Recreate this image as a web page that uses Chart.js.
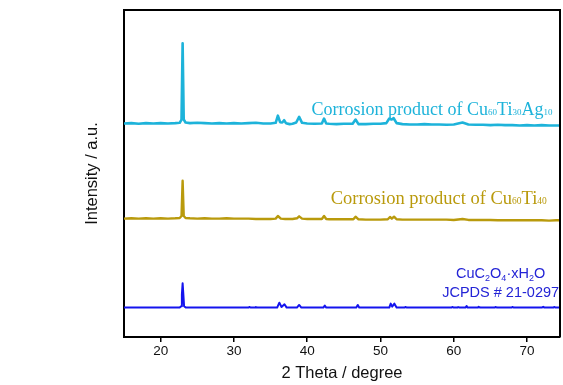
<!DOCTYPE html>
<html>
<head>
<meta charset="utf-8">
<script src="https://cdn.jsdelivr.net/npm/chart.js@4/dist/chart.umd.min.js"></script>
<style>
html,body{margin:0;padding:0;background:#fff;overflow:hidden;}
canvas{display:block;}
</style>
</head>
<body>
<canvas id="c" width="563" height="385" style="width:563px;height:385px"></canvas>
<script>
// ---- Data (2θ in degree, intensity in a.u. relative to each pattern's baseline) ----
const xTickValues = [20, 30, 40, 50, 60, 70];
const seriesNames = ['Corrosion product of Cu60Ti30Ag10', 'Corrosion product of Cu60Ti40', 'CuC2O4·xH2O JCPDS # 21-0297'];
const seriesOffsets = [653, 362, 90];

const cuTiAgTheta = [15,16,17,18,19,20,21,22,22.6,22.85,23.0,23.15,23.4,24,25,26,27,28,29,30,31,32,33,34,35,35.7,36.0,36.3,36.6,36.85,37.1,37.6,38.0,38.5,38.9,39.3,40,41,42.0,42.3,42.6,43,44,45,46.2,46.6,47.0,48,49,50,50.8,51.2,51.5,51.8,52.2,53,54,55,56,57,58,59,60,61.2,62,63,64,65,66,67,68,69,70,71,72,73,74,74.5];
const cuTiAgInt   = [0,1,-1,1,0,1,0,1,2,12,245,12,3,1,2,1,0,1,0,1,0,1,2,0,0,2,24,4,3,10,1,-2,-1,3,20,2,0,-1,0,15,0,-1,-2,-1,-1,12,-2,-2,-1,-1,1,15,12,16,1,-2,-3,-3,-2,-3,-3,-4,-3,3,-3,-4,-4,-5,-4,-5,-5,-6,-5,-6,-5,-6,-6,-6];

const cuTiTheta = [15,16,17,18,19,20,21,22,22.6,22.85,23.0,23.15,23.4,24,25,26,27,28,29,30,31,32,33,34,35,35.7,36.0,36.4,37,38,38.6,38.9,39.3,40,41,42.0,42.3,42.6,43,44,45,46.3,46.6,47,48,49,50,51.0,51.3,51.55,51.85,52.2,53,54,55,56,57,58,59,60,61.2,62,63,64,65,66,67,68,69,70,71,72,73,74,74.5];
const cuTiInt   = [0,1,0,1,0,1,0,1,2,8,116,8,2,1,0,1,0,0,1,0,0,0,-1,-1,-1,0,8,0,-1,-1,1,7,0,-1,-1,-1,8,-1,-2,-2,-2,-2,6,-2,-3,-3,-3,-2,5,0,6,-2,-3,-3,-3,-3,-3,-3,-3,-4,-1,-4,-4,-4,-4,-5,-5,-5,-5,-5,-5,-5,-6,-5,-5];

const jcpdsTheta = [15,22.6,22.8,22.9,23.0,23.1,23.2,23.45,32.0,32.1,32.3,32.9,33.0,33.2,35.9,36.2,36.5,36.9,37.2,38.6,38.9,39.2,42.2,42.4,42.6,46.7,46.9,47.1,51.2,51.4,51.6,51.9,52.2,53.3,53.4,53.6,59.7,59.8,60.0,60.5,60.6,60.8,61.6,61.75,61.9,63.3,63.4,63.6,65.6,65.7,65.9,67.9,68.0,68.2,72.0,72.2,72.4,73.6,73.7,73.9,74.5];
const jcpdsInt   = [0,0,4,40,74,40,4,0,0,2,0,0,1.5,0,0,15,2,10,0,0,8,0,0,6,0,0,8,0,0,12,3,12,0,0,2,0,0,2,0,0,1.5,0,0,5,0,0,2.5,0,0,2,0,0,2,0,0,2.5,0,0,2,0,0];

const seriesColors = ['#1db3da', '#b99a0c', '#1414ee'];

function toPoints(theta, inten, offset) {
  return theta.map((t, i) => ({ x: t, y: inten[i] + offset }));
}

// ---- Annotation text plugin ----
const labelPlugin = {
  id: 'labels',
  afterDatasetsDraw(chart) {
    const { ctx, chartArea, scales: { x, y } } = chart;
    ctx.save();
    // frame (top and right borders)
    ctx.strokeStyle = '#000';
    ctx.lineWidth = 2;
    ctx.beginPath();
    ctx.moveTo(chartArea.left, chartArea.top);
    ctx.lineTo(chartArea.right, chartArea.top);
    ctx.lineTo(chartArea.right, chartArea.bottom);
    ctx.stroke();

    function drawRich(parts, px, py, color, family, size, subSize, subDrop) {
      ctx.fillStyle = color;
      ctx.textBaseline = 'alphabetic';
      ctx.textAlign = 'left';
      let cx = px;
      parts.forEach(p => {
        const s = p[1] ? subSize : size;
        ctx.font = s + 'px ' + family;
        ctx.fillText(p[0], cx, py + (p[1] ? subDrop : 0));
        cx += ctx.measureText(p[0]).width;
      });
      return cx - px;
    }
    function richWidth(parts, family, size, subSize) {
      let w = 0;
      parts.forEach(p => {
        ctx.font = (p[1] ? subSize : size) + 'px ' + family;
        w += ctx.measureText(p[0]).width;
      });
      return w;
    }
    const serif = '"Liberation Serif", "Times New Roman", serif';
    const sans = '"Liberation Sans", Arial, sans-serif';

    const l1 = [['Corrosion product of Cu', false], ['60', true], ['Ti', false], ['30', true], ['Ag', false], ['10', true]];
    drawRich(l1, x.getPixelForValue(40.6), y.getPixelForValue(680), seriesColors[0], serif, 18, 9, 0.5);

    const l2 = [['Corrosion product of Cu', false], ['60', true], ['Ti', false], ['40', true]];
    drawRich(l2, x.getPixelForValue(43.2), y.getPixelForValue(407), seriesColors[1], serif, 18.5, 9.5, 0.5);

    const l3 = [['CuC', false], ['2', true], ['O', false], ['4', true], ['·xH', false], ['2', true], ['O', false]];
    const cxp = x.getPixelForValue(66.4);
    const w3 = richWidth(l3, sans, 14.5, 9);
    drawRich(l3, cxp - w3 / 2, y.getPixelForValue(180), '#2424d6', sans, 14.5, 9, 3);
    ctx.font = '14.5px ' + sans;
    ctx.textAlign = 'center';
    ctx.fillStyle = '#2424d6';
    ctx.fillText('JCPDS # 21-0297', cxp, y.getPixelForValue(123));
    ctx.restore();
  }
};

const chart = new Chart(document.getElementById('c'), {
  type: 'line',
  data: {
    datasets: [
      { label: seriesNames[0], data: toPoints(cuTiAgTheta, cuTiAgInt, seriesOffsets[0]), borderColor: seriesColors[0], borderWidth: 2.6 },
      { label: seriesNames[1], data: toPoints(cuTiTheta, cuTiInt, seriesOffsets[1]), borderColor: seriesColors[1], borderWidth: 2.4 },
      { label: seriesNames[2], data: toPoints(jcpdsTheta, jcpdsInt, seriesOffsets[2]), borderColor: seriesColors[2], borderWidth: 2 }
    ]
  },
  options: {
    responsive: false,
    animation: false,
    parsing: true,
    elements: { point: { radius: 0 }, line: { tension: 0, borderJoinStyle: 'round' } },
    layout: { padding: { left: 0, right: 3, top: 10, bottom: 0 } },
    plugins: { legend: { display: false }, tooltip: { enabled: false } },
    scales: {
      x: {
        type: 'linear',
        min: 15,
        max: 74.5,
        afterBuildTicks: s => { s.ticks = xTickValues.map(v => ({ value: v })); },
        afterFit: s => { s.height = 48; },
        grid: { drawOnChartArea: false, drawTicks: true, tickLength: 5, color: '#000', lineWidth: 1.5 },
        border: { display: true, color: '#000', width: 2 },
        ticks: { color: '#111', padding: 1, font: { family: '"Liberation Sans", Arial, sans-serif', size: 13.5 } },
        title: { display: true, text: '2 Theta / degree', color: '#111', padding: { top: 0, bottom: 2 }, font: { family: '"Liberation Sans", Arial, sans-serif', size: 16.5 } }
      },
      y: {
        type: 'linear',
        min: 0,
        max: 1000,
        afterFit: s => { s.width = 124; },
        grid: { drawOnChartArea: false, drawTicks: false },
        border: { display: true, color: '#000', width: 2 },
        ticks: { display: false },
        title: { display: true, text: 'Intensity / a.u.', color: '#111', padding: { top: 83, bottom: 0 }, font: { family: '"Liberation Sans", Arial, sans-serif', size: 16.5 } }
      }
    }
  },
  plugins: [labelPlugin]
});
</script>
</body>
</html>
